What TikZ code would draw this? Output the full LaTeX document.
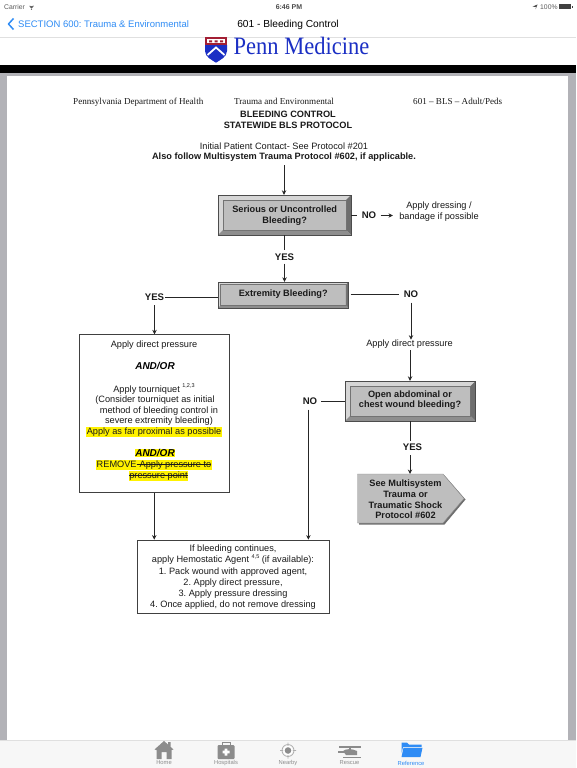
\documentclass[tikz,border=0pt]{standalone}
\usepackage{fontspec}
\setmainfont{Liberation Sans}
\newfontfamily\timesf{Liberation Serif}
\usetikzlibrary{arrows.meta,calc}
\definecolor{ink}{HTML}{1A1A1A}
\definecolor{bevelmid}{HTML}{BEBEBE}
\definecolor{bevellight}{HTML}{D6D6D6}
\definecolor{beveldark}{HTML}{6E6E6E}
\definecolor{bevelshade}{HTML}{8E8E8E}
\definecolor{pagegrey}{HTML}{B2B2B7}
\definecolor{iosblue}{HTML}{2F8CF5}
\definecolor{pennblue}{HTML}{1B2FC4}
\definecolor{pennred}{HTML}{A31F34}
\definecolor{tabgrey}{HTML}{8C8C8C}
\newcommand{\sz}[1]{\fontsize{#1}{#1}\selectfont\frenchspacing}
\newcommand{\strk}[1]{\leavevmode\rlap{#1}\sbox0{#1}\rlap{\rule[0.27em]{\wd0}{0.5pt}}\hspace{\wd0}}
\newcommand{\supr}[1]{\raisebox{0.45em}{\fontsize{5.5}{6}\selectfont #1}}
\tikzset{
 x=1pt,y=-1pt,
 txt/.style={inner sep=0pt,yshift=-1pt,text=ink,font=\fontsize{9.2}{11.2}\selectfont\frenchspacing,align=center},
 btxt/.style={inner sep=0pt,text=ink,font=\fontsize{9.2}{10.6}\selectfont\bfseries\frenchspacing,align=center},
 hit/.style={inner sep=0pt},
 lab/.style={inner sep=0pt,text=ink,font=\fontsize{9.6}{11}\selectfont\bfseries,minimum height=13pt,minimum width=18pt},
 andor/.style={inner sep=0pt,text=black,font=\fontsize{10}{11}\selectfont\bfseries\itshape},
 hdr/.style={inner sep=0pt,text=ink,font=\fontsize{9.1}{11}\timesf\selectfont\frenchspacing,anchor=base west},
 hl/.style={fill=yellow,inner sep=0.5pt},
 plain/.style={draw=black!75,line width=0.8pt,fill=white,inner sep=0pt},
 conn/.style={draw=black!85,line width=0.7pt},
 arr/.style={conn,-{Stealth[length=4.5pt,width=4.4pt]}},
 tablab/.style={inner sep=0pt,font=\fontsize{5.8}{6}\selectfont,text=black!45},
}
% x1 y1 x2 y2 bevel
\newcommand{\bevelbox}[5]{
 \fill[bevelmid] (#1,#2) rectangle (#3,#4);
 \fill[bevellight] (#1,#2) -- (#3,#2) -- ({#3-#5},{#2+#5}) -- ({#1+#5},{#2+#5}) -- ({#1+#5},{#4-#5}) -- (#1,#4) -- cycle;
 \fill[beveldark] (#3,#2) -- (#3,#4) -- ({#3-#5},{#4-#5}) -- ({#3-#5},{#2+#5}) -- cycle;
 \fill[bevelshade] (#1,#4) -- (#3,#4) -- ({#3-#5},{#4-#5}) -- ({#1+#5},{#4-#5}) -- cycle;
 \draw[black!70,line width=0.6pt] (#1,#2) rectangle (#3,#4);
 \draw[black!55,line width=0.3pt] ({#1+#5},{#2+#5}) rectangle ({#3-#5},{#4-#5});
}
\begin{document}
\begin{tikzpicture}
\useasboundingbox (0,0) rectangle (576,768);
% chrome
\fill[white] (0,0) rectangle (576,768);
\fill[pagegrey] (0,73) rectangle (576,740);
\fill[white] (7,76) rectangle (568,740);
\fill[black] (0,65) rectangle (576,73);
\draw[black!12,line width=0.5pt] (0,37) -- (576,37);
\fill[black!3] (0,740) rectangle (576,768);
\draw[black!12,line width=0.5pt] (0,740) -- (576,740);
% status bar
\node[inner sep=0pt,font=\sz{6.8},text=black!65,anchor=west] (carrier) at (4,7) {Carrier};
\draw[black!65,line width=0.8pt] (29.5,6) arc[start angle=130,end angle=50,radius=3.2] (30.3,7.4) arc[start angle=130,end angle=50,radius=1.8];
\fill[black!65] (31.5,9.2) circle (0.7);
\node[inner sep=0pt,font=\sz{7}\bfseries,text=black!70] (clock) at (289,7) {6:46 PM};
\fill[black!70] (536,7) -- (532.5,6.6) -- (537.5,4.5) -- (535.5,9.5) -- cycle;
\node[inner sep=0pt,font=\sz{6.8},text=black!65,anchor=west] (batt) at (540,7) {100\%};
\fill[black!75] (559,4.5) rectangle (571,9.5);
\fill[black!75] (571.6,6) rectangle (572.6,8);
% nav bar
\draw[iosblue,line width=1.5pt,line join=round] (13.5,18.5) -- (8.5,24) -- (13.5,29.5);
\node[inner sep=0pt,font=\sz{9.5},text=iosblue,anchor=west] (back) at (18,24.5) {SECTION 600: Trauma \& Environmental};
\node[inner sep=0pt,font=\sz{10.2},text=black,anchor=center] (title) at (288,24.5) {601 - Bleeding Control};
% logo
\node[inner sep=0pt,font=\fontsize{25}{25}\timesf\selectfont,text=pennblue,anchor=base west] (penn) at (233.5,55) {\scalebox{0.9}[1]{Penn Medicine}};
\fill[pennblue] (205,45) -- (227,45) -- (227,51) .. controls (227,57) and (220,60) .. (216,62.7) .. controls (212,60) and (205,57) .. (205,51) -- cycle;
\fill[pennred] (205,37.5) rectangle (227,45);
\fill[white] (207,39.5) rectangle (225,43);
\fill[pennred] (209,40.5) rectangle (212,42.5) (214.5,40.5) rectangle (217.5,42.5) (220,40.5) rectangle (223,42.5);
\draw[white,line width=1.8pt] (207.5,55) -- (216,47.5) -- (224.5,55);
% document header
\node[hdr] (h1) at (73,104) {Pennsylvania Department of Health};
\node[hdr] (h2) at (234,104) {Trauma and Environmental};
\node[hdr] (h3) at (413,104) {601 – BLS – Adult/Peds};
\node[btxt] (t1) at (288,114.5) {BLEEDING CONTROL};
\node[btxt] (t2) at (288,125) {STATEWIDE BLS PROTOCOL};
\node[txt] (i1) at (284,145) {Initial Patient Contact- See Protocol \#201};
\node[btxt] (i2) at (284,157) {Also follow Multisystem Trauma Protocol \#602, if applicable.};
\coordinate (start) at (284,165);
% bevel boxes
\bevelbox{218}{195}{351}{235}{5}
\node[hit,minimum width=133pt,minimum height=40pt] (b1) at (284.5,215) {};
\node[btxt] (b1t) at (284.7,215.5) {Serious or Uncontrolled\\Bleeding?};
\bevelbox{218}{282}{348.5}{308}{2.6}
\node[hit,minimum width=130.5pt,minimum height=26pt] (b2) at (283.25,295) {};
\node[btxt] (b2t) at (283.25,293.7) {Extremity Bleeding?};
\bevelbox{345}{381}{475.5}{421}{5}
\node[hit,minimum width=130.5pt,minimum height=40pt] (b3) at (410.25,401) {};
\node[btxt] (b3t) at (410,400.3) {Open abdominal or\\chest wound bleeding?};
% pentagon
\fill[beveldark] (359,475.5) -- (444.5,475.5) -- (465.5,499.5) -- (444.5,524.5) -- (359,524.5) -- cycle;
\filldraw[fill=bevelmid,draw=black!45,line width=0.4pt] (357.5,474) -- (443,474) -- (464,498.5) -- (443,523) -- (357.5,523) -- cycle;
\node[btxt] (p1) at (405.5,499.5) {See Multisystem\\Trauma or\\Traumatic Shock\\Protocol \#602};
\coordinate (p1top) at (410,474);
% plain boxes
\node[plain,minimum width=149.5pt,minimum height=157.5pt] (lb) at (154.25,413.5) {};
\node[txt] (l1) at (154,344) {Apply direct pressure};
\node[andor] (l2) at (155,366) {AND/OR};
\node[txt] (l3) at (154,388) {Apply tourniquet \supr{1,2,3}};
\node[txt] (l4) at (155,399) {(Consider tourniquet as initial};
\node[txt] (l5) at (159,409.7) {method of bleeding control in};
\node[txt] (l6) at (159,420.3) {severe extremity bleeding)};
\node[txt,hl] (l7) at (154,431) {Apply as far proximal as possible};
\node[andor,hl] (l8) at (155,453) {AND/OR};
\node[txt,hl] (l9) at (154,464) {REMOVE\strk{-Apply pressure to}};
\node[txt,hl] (l10) at (158.5,475) {\strk{pressure point}};
\node[plain,minimum width=192pt,minimum height=73pt] (bb) at (233,576.5) {};
\node[inner sep=0pt,text=ink,font=\fontsize{9.2}{11.1}\selectfont\frenchspacing,align=center] (bbt) at (233,577.2) {If bleeding continues,\\apply Hemostatic Agent \supr{4,5} (if available):\\1. Pack wound with approved agent,\\2. Apply direct pressure,\\3. Apply pressure dressing\\4. Once applied, do not remove dressing};
% side text
\node[lab,minimum width=23pt] (no1) at (369,215.5) {NO};
\node[txt] (dress) at (439,210.8) {Apply dressing /\\bandage if possible};
\coordinate (dressin) at (393,215.5);
\node[lab] (yes1) at (284.5,256.8) {YES};
\node[lab,minimum width=21pt,minimum height=16pt] (yes2) at (154.5,297) {YES};
\node[lab,minimum width=24pt,minimum height=16pt] (no2) at (411,294.5) {NO};
\node[txt] (r1) at (409.5,343.2) {Apply direct pressure};
\node[lab,minimum height=16pt,minimum width=21pt] (no3) at (310,401) {NO};
\coordinate (no3foot) at (308.4,409.5);
\node[lab,minimum height=14.5pt] (yes3) at (412.5,448) {\raisebox{1.2pt}{YES}};
% connectors
\draw[arr] (start) -- (start |- b1.north);
\draw[conn] (b1.east |- no1) -- (no1.west);
\draw[arr] (no1.east) -- (dressin);
\draw[conn] (yes1 |- b1.south) -- (yes1.north);
\draw[arr] (yes1.south) -- (yes1 |- b2.north);
\draw[conn] (b2.west |- yes2) -- (yes2.east);
\draw[arr] (yes2.south) -- (yes2 |- lb.north);
\draw[conn] ($(b2.east |- no2)+(2,0)$) -- (no2.west);
\draw[arr] (no2.south) -- (no2 |- r1.north);
\draw[arr] (p1top |- r1.south) ++(0,1.5) -- (p1top |- b3.north);
\draw[conn] (b3.west) -- (no3.east);
\draw[arr] (no3foot) -- (no3foot |- bb.north);
\draw[conn] (p1top |- b3.south) -- (p1top |- yes3.north);
\draw[arr] (p1top |- yes3.south) -- (p1top);
\draw[arr] (lb.south) -- (lb.south |- bb.north);
% tab bar icons
\fill[tabgrey] (154.5,749.5) -- (164,741) -- (168,744.5) -- (168,742) -- (170.5,742) -- (170.5,746.8) -- (173.5,749.5) -- (171.5,750) -- (171.5,759) -- (166.5,759) -- (166.5,752) -- (161.5,752) -- (161.5,759) -- (156.5,759) -- (156.5,750) -- cycle;
\fill[tabgrey,rounded corners=1pt] (217.5,745) rectangle (234.5,759);
\draw[tabgrey,line width=0.9pt] (222,745) -- (222,742.5) -- (230,742.5) -- (230,745);
\fill[white] (224.7,748.5) rectangle (227.3,755.5) (222.5,750.7) rectangle (229.5,753.3);
\draw[tabgrey!70,line width=0.8pt] (288,750.5) circle (6) (288,742.5) -- (288,758.5) (280,750.5) -- (296,750.5);
\fill[white] (288,750.5) circle (4.8);
\fill[tabgrey] (288,750.5) circle (3.3);
\fill[tabgrey] (343,751) .. controls (346,748.5) and (352,748.5) .. (357,751) -- (357,755) -- (346,755) -- cycle;
\draw[tabgrey,line width=1.1pt] (339,747) -- (361,747) (350,747) -- (350,750) (343,757.5) -- (361,757.5) (338,752) -- (345,752);
\fill[iosblue] (401.5,742.7) -- (407,742.7) -- (409,744.7) -- (421.5,744.7) -- (421.5,747) -- (403,747) -- (401.5,753) -- cycle;
\fill[iosblue] (403.5,747.8) -- (422.5,747.8) -- (420.5,757) -- (401.5,757) -- cycle;
\node[tablab] (tb1) at (164,763) {Home};
\node[tablab] (tb2) at (226,763) {Hospitals};
\node[tablab] (tb3) at (288,763) {Nearby};
\node[tablab] (tb4) at (349.5,763) {Rescue};
\node[tablab,text=iosblue] (tb5) at (411,763) {Reference};
\end{tikzpicture}
\end{document}
